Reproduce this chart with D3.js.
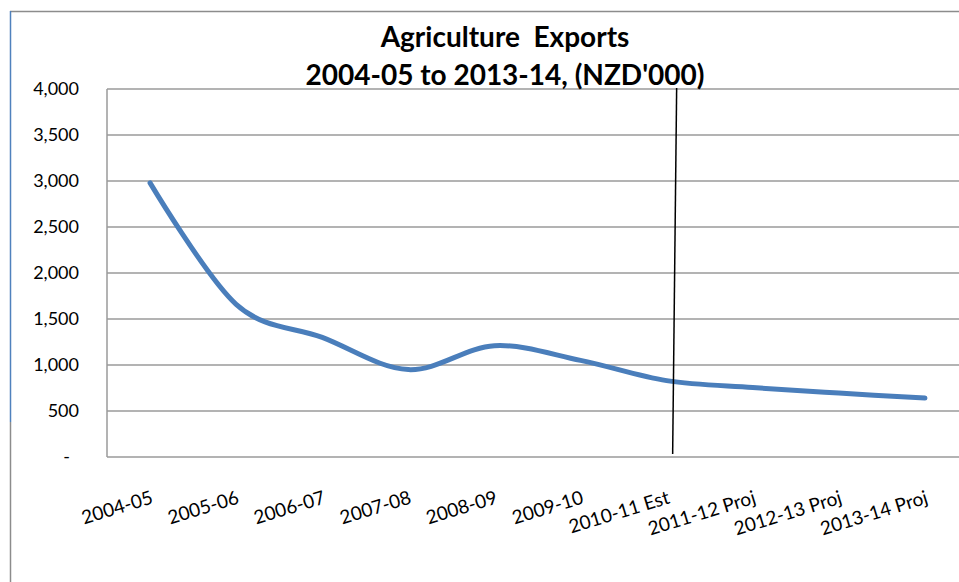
<!DOCTYPE html>
<html>
<head>
<meta charset="utf-8">
<script src="https://cdn.jsdelivr.net/npm/d3@7"></script>
<style>
  html, body { margin: 0; padding: 0; background: #fff; }
  svg { display: block; }
</style>
</head>
<body>
<svg id="chart" width="959" height="582"></svg>
<script>
// Agriculture exports by financial year, NZD'000
const categories = ["2004-05", "2005-06", "2006-07", "2007-08", "2008-09",
                    "2009-10", "2010-11 Est", "2011-12 Proj", "2012-13 Proj", "2013-14 Proj"];
const exportsValues = [2980, 1660, 1300, 950, 1210, 1050, 830, 755, 695, 640];
const yTicks = [0, 500, 1000, 1500, 2000, 2500, 3000, 3500, 4000];
const titleLines = ["Agriculture  Exports", "2004-05 to 2013-14, (NZD'000)"];
const dividerCategory = "2010-11 Est";   // actuals / projections split

const svg = d3.select("#chart");
const W = 959, H = 582;
const plot = { left: 107, top: 89, right: 968, bottom: 457 };
const font = "Lato, 'Open Sans', sans-serif";

// outer chart frame (top and left edges visible)
svg.append("line").attr("x1", 10).attr("x2", W).attr("y1", 11.5).attr("y2", 11.5)
  .attr("stroke", "#8c8c8c").attr("stroke-width", 1.5);
svg.append("line").attr("x1", 10.5).attr("x2", 10.5).attr("y1", 11).attr("y2", 422)
  .attr("stroke", "#4f81bd").attr("stroke-width", 1.5);
svg.append("line").attr("x1", 10.5).attr("x2", 10.5).attr("y1", 422).attr("y2", H)
  .attr("stroke", "#8c8c8c").attr("stroke-width", 1.5);

const x = d3.scalePoint().domain(categories).range([plot.left, plot.right]).padding(0.5);
const y = d3.scaleLinear().domain([0, 4000]).range([plot.bottom, plot.top]);

// horizontal gridlines
svg.append("g").selectAll("line").data(yTicks).join("line")
  .attr("x1", plot.left).attr("x2", W + 20)
  .attr("y1", d => y(d)).attr("y2", d => y(d))
  .attr("stroke", "#9a9a9a").attr("stroke-width", 1.5);

// value axis line
svg.append("line").attr("x1", plot.left).attr("x2", plot.left)
  .attr("y1", plot.top).attr("y2", plot.bottom)
  .attr("stroke", "#9a9a9a").attr("stroke-width", 1.5);

// y tick labels
const fmt = d3.format(",");
svg.append("g").selectAll("text").data(yTicks).join("text")
  .attr("x", d => d === 0 ? 70 : 79)
  .attr("y", d => y(d))
  .attr("dy", "0.35em")
  .attr("text-anchor", "end")
  .attr("font-family", font).attr("font-size", 18).attr("fill", "#000")
  .text(d => d === 0 ? "-" : fmt(d));

// x tick labels, rotated
svg.append("g").selectAll("text").data(categories).join("text")
  .attr("transform", d => `translate(${x(d) + 4},${503}) rotate(-17)`)
  .attr("text-anchor", "end")
  .attr("font-family", font).attr("font-size", 19).attr("fill", "#000")
  .text(d => d);

// smoothed export line
const line = d3.line()
  .x((d, i) => x(categories[i]))
  .y(d => y(d))
  .curve(d3.curveCardinal.tension(0));
svg.append("path").datum(exportsValues)
  .attr("d", line)
  .attr("fill", "none")
  .attr("stroke", "#4a7ebb")
  .attr("stroke-width", 5)
  .attr("stroke-linecap", "round")
  .attr("stroke-linejoin", "round");

// divider between estimates and projections
const dx = x(dividerCategory);
svg.append("line")
  .attr("x1", dx + 10).attr("y1", plot.top - 1)
  .attr("x2", dx + 6).attr("y2", 454)
  .attr("stroke", "#000").attr("stroke-width", 1.5);

// title
svg.append("g").selectAll("text").data(titleLines).join("text")
  .attr("x", 505)
  .attr("y", (d, i) => 47 + i * 38)
  .attr("text-anchor", "middle")
  .attr("xml:space", "preserve")
  .style("white-space", "pre")
  .attr("font-family", font).attr("font-weight", "bold").attr("font-size", 28)
  .attr("fill", "#000")
  .text(d => d);
</script>
</body>
</html>
